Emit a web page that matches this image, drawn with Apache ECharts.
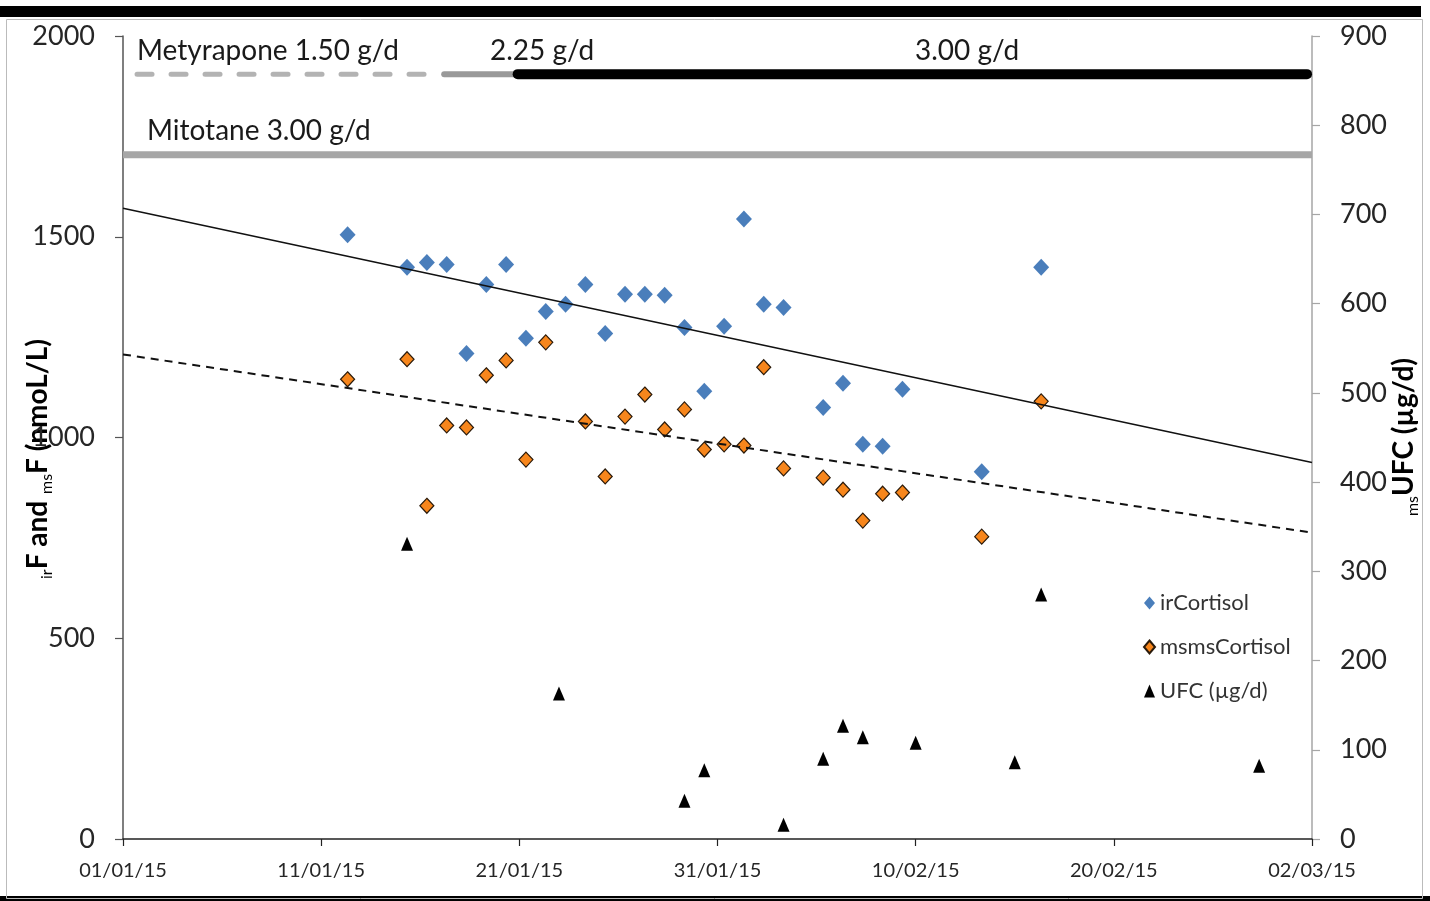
<!DOCTYPE html>
<html><head><meta charset="utf-8">
<script src="https://cdn.jsdelivr.net/npm/echarts@6/dist/echarts.min.js"></script>
<style>html,body{margin:0;padding:0;background:#fff}#c{width:1430px;height:901px}</style>
</head><body><div id="c"></div>
<script>
const xTickLabels = ['01/01/15','11/01/15','21/01/15','31/01/15','10/02/15','20/02/15','02/03/15'];

const irDates = ['2015-01-12 08:00','2015-01-15 08:00','2015-01-16 08:00','2015-01-17 08:00','2015-01-18 08:00','2015-01-19 08:00','2015-01-20 08:00','2015-01-21 08:00','2015-01-22 08:00','2015-01-23 08:00','2015-01-24 08:00','2015-01-25 08:00','2015-01-26 08:00','2015-01-27 08:00','2015-01-28 08:00','2015-01-29 08:00','2015-01-30 08:00','2015-01-31 08:00','2015-02-01 08:00','2015-02-02 08:00','2015-02-03 08:00','2015-02-05 08:00','2015-02-06 08:00','2015-02-07 08:00','2015-02-08 08:00','2015-02-09 08:00','2015-02-13 08:00','2015-02-16 08:00'];
const irValues = [1505,1424,1436,1431,1209,1381,1431,1247,1314,1332,1381,1259,1357,1357,1354,1274,1115,1277,1544,1332,1324,1075,1135,983,978,1120,915,1424];

const msDates = ['2015-01-12 08:00','2015-01-15 08:00','2015-01-16 08:00','2015-01-17 08:00','2015-01-18 08:00','2015-01-19 08:00','2015-01-20 08:00','2015-01-21 08:00','2015-01-22 08:00','2015-01-24 08:00','2015-01-25 08:00','2015-01-26 08:00','2015-01-27 08:00','2015-01-28 08:00','2015-01-29 08:00','2015-01-30 08:00','2015-01-31 08:00','2015-02-01 08:00','2015-02-02 08:00','2015-02-03 08:00','2015-02-05 08:00','2015-02-06 08:00','2015-02-07 08:00','2015-02-08 08:00','2015-02-09 08:00','2015-02-13 08:00','2015-02-16 08:00'];
const msValues = [1145,1195,830,1030,1025,1155,1192,945,1237,1040,903,1052,1107,1020,1070,970,983,980,1175,923,900,870,793,860,863,753,1090];

const ufcDates = ['2015-01-15 08:00','2015-01-23 00:00','2015-01-29 08:00','2015-01-30 08:00','2015-02-03 08:00','2015-02-05 08:00','2015-02-06 08:00','2015-02-07 08:00','2015-02-10 00:00','2015-02-15 00:00','2015-02-16 08:00','2015-02-27 08:00'];
const ufcValues = [331,163,43,77,16,90,127,114,108,86,274,82];

const trendRangeDates = ['2015-01-01 00:00','2015-03-02 00:00'];
const trendIrValues = [1571, 938];
const trendMsValues = [1207, 763];

const metyraponeLabels = ['Metyrapone 1.50 g/d','2.25 g/d','3.00 g/d'];
const metyraponePeriods = [['2015-01-01 17:00','2015-01-16 07:00'],['2015-01-17 05:00','2015-01-20 22:00'],['2015-01-20 22:00','2015-03-01 18:00']];
const mitotaneLabel = 'Mitotane 3.00 g/d';
const mitotanePeriod = ['2015-01-01 00:00','2015-03-02 00:00'];

const t0 = Date.UTC(2015,0,1);
function day(s){
  const [d,t] = s.split(' ');
  const [Y,M,D] = d.split('-').map(Number);
  let h=0, mi=0;
  if (t) [h,mi] = t.split(':').map(Number);
  return (Date.UTC(Y,M-1,D,h,mi)-t0)/864e5;
}
const pairs = (dates, vals) => dates.map((d,i)=>[day(d), vals[i]]);

const FONT = 'Lato';
const METY_Y = 1905, MITO_Y = 1704;

const chart = echarts.init(document.getElementById('c'), null, {renderer:'canvas'});
const nameRich = {
  b: {fontFamily: FONT, fontSize: 28, fontWeight: 'bold', fill: '#000', lineHeight: 34},
  s: {fontFamily: FONT, fontSize: 16, fill: '#000', lineHeight: 16, verticalAlign: 'bottom'}
};
const option = {
  animation: false,
  backgroundColor: '#fff',
  textStyle: {fontFamily: FONT},
  grid: {left: 123, right: 118, top: 36, bottom: 62},
  xAxis: {
    type: 'value', min: 0, max: 60, interval: 10,
    axisLine: {lineStyle: {color: '#222', width: 1.5}},
    axisTick: {show: true, length: 7, lineStyle: {color: '#222', width: 1.2}},
    splitLine: {show: false},
    axisLabel: {fontFamily: FONT, fontSize: 20, color: '#262626', margin: 22,
      formatter: v => xTickLabels[Math.round(v/10)]}
  },
  yAxis: [{
    type: 'value', min: 0, max: 2000, interval: 500, position: 'left',
    axisLine: {show: true, lineStyle: {color: '#555', width: 1.5}},
    axisTick: {show: true, length: 8, lineStyle: {color: '#555', width: 1.2}},
    splitLine: {show: false},
    axisLabel: {fontFamily: FONT, fontSize: 27, color: '#262626', margin: 28, formatter: v => String(v)}
  },{
    type: 'value', min: 0, max: 900, interval: 100, position: 'right',
    axisLine: {show: true, lineStyle: {color: '#a6a6a6', width: 1.5}},
    axisTick: {show: true, length: 8, lineStyle: {color: '#a6a6a6', width: 1.2}},
    splitLine: {show: false},
    axisLabel: {fontFamily: FONT, fontSize: 27, color: '#262626', margin: 28, formatter: v => String(v)}
  }],
  legend: {
    orient: 'vertical', left: 1138, top: 587, itemGap: 22,
    itemWidth: 11, itemHeight: 13,
    textStyle: {fontFamily: FONT, fontSize: 22, color: '#333'},
    data: ['irCortisol','msmsCortisol','UFC (µg/d)']
  },
  series: [
    {name: 'irCortisol', type: 'scatter', yAxisIndex: 0, symbol: 'diamond', symbolSize: [16,17],
      itemStyle: {color: '#4a7ebb', opacity: 1}, z: 3, data: pairs(irDates, irValues)},
    {name: 'msmsCortisol', type: 'scatter', yAxisIndex: 0, symbol: 'diamond', symbolSize: [14,15],
      itemStyle: {color: '#f7861c', borderColor: '#2a1a0a', borderWidth: 1.2, opacity: 1}, z: 3, data: pairs(msDates, msValues)},
    {name: 'UFC (µg/d)', type: 'scatter', yAxisIndex: 1, symbol: 'triangle', symbolSize: [12,14],
      itemStyle: {color: '#000', opacity: 1}, z: 3, data: pairs(ufcDates, ufcValues)},
    {name: 'trendIr', type: 'line', yAxisIndex: 0, symbol: 'none', silent: true, z: 4,
      lineStyle: {color: '#111', width: 1.5}, data: pairs(trendRangeDates, trendIrValues)},
    {name: 'trendMs', type: 'line', yAxisIndex: 0, symbol: 'none', silent: true, z: 4,
      lineStyle: {color: '#111', width: 2, type: [8,6]}, data: pairs(trendRangeDates, trendMsValues)},
    {name: 'mety1', type: 'line', yAxisIndex: 0, symbol: 'none', silent: true, z: 2,
      lineStyle: {color: '#b3b3b3', width: 5, type: [15,19], cap: 'round'},
      data: metyraponePeriods[0].map(d => [day(d), METY_Y])},
    {name: 'mety2', type: 'line', yAxisIndex: 0, symbol: 'none', silent: true, z: 2,
      lineStyle: {color: '#999', width: 6, cap: 'round'},
      data: metyraponePeriods[1].map(d => [day(d), METY_Y])},
    {name: 'mety3', type: 'line', yAxisIndex: 0, symbol: 'none', silent: true, z: 2,
      lineStyle: {color: '#000', width: 10, cap: 'round'},
      data: metyraponePeriods[2].map(d => [day(d), METY_Y])},
    {name: 'mito', type: 'line', yAxisIndex: 0, symbol: 'none', silent: true, z: 2,
      lineStyle: {color: '#a6a6a6', width: 7},
      data: mitotanePeriod.map(d => [day(d), MITO_Y])}
  ],
  graphic: [
    {type: 'rect', left: 0, top: 6, shape: {width: 1421, height: 11}, style: {fill: '#000'}, silent: true},
    {type: 'rect', left: 0, top: 896, shape: {width: 1430, height: 5}, style: {fill: '#000'}, silent: true},
    {type: 'rect', left: 4, top: 17, shape: {width: 1416, height: 879}, style: {fill: 'none', stroke: '#bbb', lineWidth: 1}, silent: true},
    {type: 'rect', left: 1302, top: 66, shape: {width: 12, height: 16}, style: {fill: '#fff'}, silent: true, z: -1},
    {type: 'text', x: 137, y: 51, style: {text: metyraponeLabels[0], font: '28px Lato', fill: '#1a1a1a', verticalAlign: 'middle'}},
    {type: 'text', x: 490, y: 51, style: {text: metyraponeLabels[1], font: '28px Lato', fill: '#1a1a1a', verticalAlign: 'middle'}},
    {type: 'text', x: 915, y: 51, style: {text: metyraponeLabels[2], font: '28px Lato', fill: '#1a1a1a', verticalAlign: 'middle'}},
    {type: 'text', x: 147, y: 131, style: {text: mitotaneLabel, font: '28px Lato', fill: '#1a1a1a', verticalAlign: 'middle'}},
    {type: 'text', x: 38, y: 459, rotation: Math.PI/2,
      style: {text: '{s|ir}{b|F and }{s|ms}{b|F (nmoL/L)}', align: 'center', verticalAlign: 'middle', rich: nameRich}},
    {type: 'text', x: 1404, y: 437, rotation: Math.PI/2,
      style: {text: '{s|ms}{b|UFC (µg/d)}', align: 'center', verticalAlign: 'middle', rich: nameRich}}
  ]
};
chart.setOption(option);
</script></body></html>
